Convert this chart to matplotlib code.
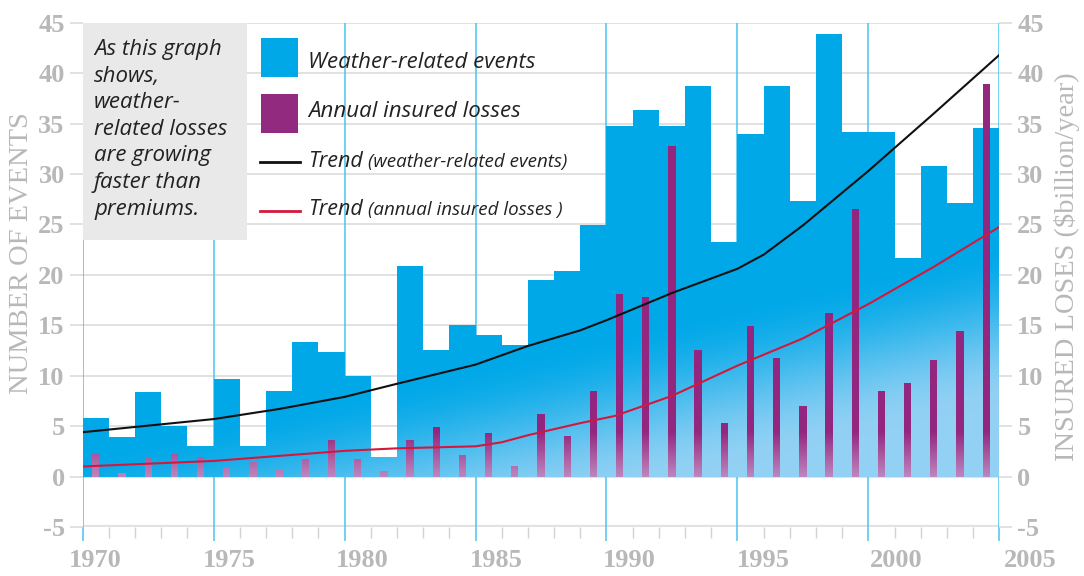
import numpy as np
import matplotlib
matplotlib.use("Agg")
import matplotlib.pyplot as plt
from matplotlib.patches import Rectangle, PathPatch
from matplotlib.path import Path
from matplotlib.lines import Line2D
from matplotlib.colors import to_rgb
import matplotlib.transforms as mtransforms

plt.rcParams["axes.unicode_minus"] = False

# ---------------- data ----------------
years = list(range(1970, 2005))
events = [5.8, 3.9, 8.4, 5.0, 3.0, 9.7, 3.0, 8.5, 13.3, 12.4,
          10.0, 1.9, 20.9, 12.5, 15.0, 14.0, 13.0, 19.5, 20.4, 24.9,
          34.8, 36.3, 34.8, 38.7, 23.3, 34.0, 38.7, 27.3, 43.9, 34.2,
          34.2, 21.7, 30.8, 27.1, 34.6]
losses = [2.25, 0.4, 1.8, 2.25, 1.9, 0.9, 1.4, 0.7, 1.7, 3.6,
          1.75, 0.56, 3.6, 4.95, 2.15, 4.36, 1.0, 6.2, 4.0, 8.5,
          18.1, 17.8, 32.8, 12.5, 5.35, 14.9, 11.8, 7.0, 16.2, 26.5,
          8.5, 9.3, 11.55, 14.45, 38.9]
trend_ev_x = [1970, 1975, 1977.5, 1980, 1982, 1985, 1987, 1989, 1990, 1992.5, 1995, 1996, 1997.5, 2000, 2002.5, 2005]
trend_ev_y = [4.4, 5.7, 6.7, 7.9, 9.2, 11.1, 12.95, 14.5, 15.5, 18.2, 20.6, 22.0, 24.9, 30.3, 36.0, 41.8]
trend_loss_x = [1970, 1975, 1980, 1982, 1985, 1986, 1987, 1989, 1990.3, 1992.5, 1995, 1997.5, 2000, 2002.5, 2005]
trend_loss_y = [1.0, 1.55, 2.55, 2.8, 3.0, 3.4, 4.1, 5.3, 6.0, 8.0, 11.0, 13.7, 17.1, 20.8, 24.75]
xticks = [1970, 1975, 1980, 1985, 1990, 1995, 2000, 2005]
yticks = [-5, 0, 5, 10, 15, 20, 25, 30, 35, 40, 45]
note_lines = ["As this graph", "shows,", "weather-", "related losses",
              "are growing", "faster than", "premiums."]

# ---------------- style ----------------
W, H = 1084, 576
GRAY_TXT = "#b8b8b8"
GRID = "#d9d9d9"
VLINE = "#4cc3f1"
BLUE = "#00a8e8"
MAG = "#93267f"
SERIF = "Liberation Serif"
ITAL = "Open Sans"
TXT = "#222222"


def fx(px):
    return px / W


def fy(py):
    return 1 - py / H


fig = plt.figure(figsize=(W / 100, H / 100), dpi=100)
fig.patch.set_facecolor("white")
ax = fig.add_axes([fx(82.7), fy(527), (999.3 - 82.7) / W, (527 - 22.7) / H])
ax.set_facecolor("none")
for s in ax.spines.values():
    s.set_visible(False)

# grid lines
for yv in yticks[1:]:
    ax.axhline(yv, color=GRID, lw=1.1, zorder=0.5)
ax.axhline(-5, color="#e2e2e2", lw=3.0, zorder=0.5)
for xv in xticks:
    ax.axvline(xv, color=VLINE, lw=1.1, zorder=0.6)

# note box
ax.add_patch(Rectangle((1970, 23.46), 6.28, 21.54, facecolor="#e9e9e9",
                       edgecolor="none", zorder=1.5))

# diagonal gradient image (solid top-left -> light bottom-right)
gx = np.linspace(1970, 2005, 350)[None, :]
gv = np.linspace(0, 45, 450)[:, None]
s = np.clip(0.15 + 1.3 * (gx - 1970) / 35 - gv / 16, 0, 1)
s = s * s * (3 - 2 * s)
solid = np.array(to_rgb(BLUE))
light = np.array(to_rgb("#92d1f4"))
img_b = solid[None, None, :] * (1 - s[..., None]) + light[None, None, :] * s[..., None]

# blue event bars
bars = ax.bar(years, events, width=1.0, align="edge", color="none",
              edgecolor="none", zorder=2)
paths = [Path.unit_rectangle().transformed(
    mtransforms.Affine2D().scale(b.get_width(), b.get_height()).translate(b.get_x(), b.get_y()))
    for b in bars]
clip_b = PathPatch(Path.make_compound_path(*paths), transform=ax.transData,
                   facecolor="none", edgecolor="none")
ax.add_patch(clip_b)
im = ax.imshow(img_b, extent=[1970, 2005, 0, 45], origin="lower",
               aspect="auto", zorder=2, interpolation="bilinear")
im.set_clip_path(clip_b)

# magenta loss bars (fade near the base)
sm = np.clip(1 - gv / 4.5, 0, 1) * np.ones_like(gx)
msolid = np.array(to_rgb(MAG))
mlight = np.array(to_rgb("#bd86bd"))
img_m = msolid[None, None, :] * (1 - sm[..., None]) + mlight[None, None, :] * sm[..., None]
lbars = ax.bar([y + 0.5 for y in years], losses, width=0.28, align="center",
               color="none", edgecolor="none", zorder=3)
lpaths = [Path.unit_rectangle().transformed(
    mtransforms.Affine2D().scale(b.get_width(), b.get_height()).translate(b.get_x(), b.get_y()))
    for b in lbars]
clip_m = PathPatch(Path.make_compound_path(*lpaths), transform=ax.transData,
                   facecolor="none", edgecolor="none")
ax.add_patch(clip_m)
im2 = ax.imshow(img_m, extent=[1970, 2005, 0, 45], origin="lower",
                aspect="auto", zorder=3, interpolation="bilinear")
im2.set_clip_path(clip_m)

# trends
ax.plot(trend_ev_x, trend_ev_y, color="#111111", lw=1.5, zorder=4)
ax.plot(trend_loss_x, trend_loss_y, color="#d4183c", lw=1.5, zorder=4)

ax.set_xlim(1970, 2005)
ax.set_ylim(-5, 45)

# ticks
ax.set_xticks(xticks)
ax.set_xticks(years[1:], minor=True)
ax.tick_params(axis="x", which="major", length=10, width=1.1, color=VLINE,
               pad=6, labelsize=19, labelcolor=GRAY_TXT)
ax.tick_params(axis="x", which="minor", length=8, width=1.0, color="#d2d2d2")
ax.set_yticks(yticks)
ax.tick_params(axis="y", which="major", length=9.5, width=1.1, color=GRID,
               left=True, right=True, labelleft=True, labelright=True,
               pad=3.5, labelsize=19, labelcolor=GRAY_TXT)
for lbl in ax.get_xticklabels() + ax.get_yticklabels():
    lbl.set_fontfamily(SERIF)
    lbl.set_fontweight("bold")
for lbl in ax.get_xticklabels():
    yr = float(lbl.get_position()[0])
    dx = (13 + 0.5 * (yr - 1970)) / 100.0
    lbl.set_transform(lbl.get_transform() + mtransforms.ScaledTranslation(dx, 0, fig.dpi_scale_trans))

# axis titles
fig.text(fx(22), fy(253), "NUMBER OF EVENTS", rotation=90, ha="center", va="center",
         fontfamily=SERIF, fontsize=20.5, color=GRAY_TXT)
fig.text(fx(1067), fy(267), "INSURED LOSES ($billion/year)", rotation=90, ha="center",
         va="center", fontfamily=SERIF, fontsize=20.5, color=GRAY_TXT)

# note text
for i, line in enumerate(note_lines):
    fig.text(fx(94), fy(55 + 26.6 * i), line, ha="left", va="baseline",
             fontfamily=ITAL, fontstyle="italic", fontsize=16, color=TXT)

# legend (manual)
fig.patches.append(Rectangle((fx(260.7), fy(76.7)), (298 - 260.7) / W, (76.7 - 38) / H,
                             transform=fig.transFigure, facecolor=BLUE, edgecolor="none",
                             zorder=5))
fig.patches.append(Rectangle((fx(260.7), fy(132.7)), (298 - 260.7) / W, (132.7 - 94) / H,
                             transform=fig.transFigure, facecolor="#922a7f", edgecolor="none",
                             zorder=5))
fig.lines.append(Line2D([fx(260), fx(300)], [fy(161.7), fy(161.7)], transform=fig.transFigure,
                        color="#111111", lw=2.0))
fig.lines.append(Line2D([fx(260), fx(300)], [fy(210.7), fy(210.7)], transform=fig.transFigure,
                        color="#d4183c", lw=2.0))
fig.text(fx(308), fy(68.3), "Weather-related events", ha="left", va="baseline",
         fontfamily=ITAL, fontstyle="italic", fontsize=16, color=TXT)
fig.text(fx(308), fy(116.7), "Annual insured losses", ha="left", va="baseline",
         fontfamily=ITAL, fontstyle="italic", fontsize=16, color=TXT)
renderer = fig.canvas.get_renderer()
for base, sub in [(166.7, "(weather-related events)"), (215, "(annual insured losses )")]:
    t = fig.text(fx(308), fy(base), "Trend", ha="left", va="baseline",
                 fontfamily=ITAL, fontstyle="italic", fontsize=15.5, color=TXT)
    ext = t.get_window_extent(renderer)
    fig.text(fx(ext.x1 + 5), fy(base), sub, ha="left", va="baseline",
             fontfamily=ITAL, fontstyle="italic", fontsize=13.5, color=TXT)

fig.savefig("out.png", dpi=100, facecolor="white")
